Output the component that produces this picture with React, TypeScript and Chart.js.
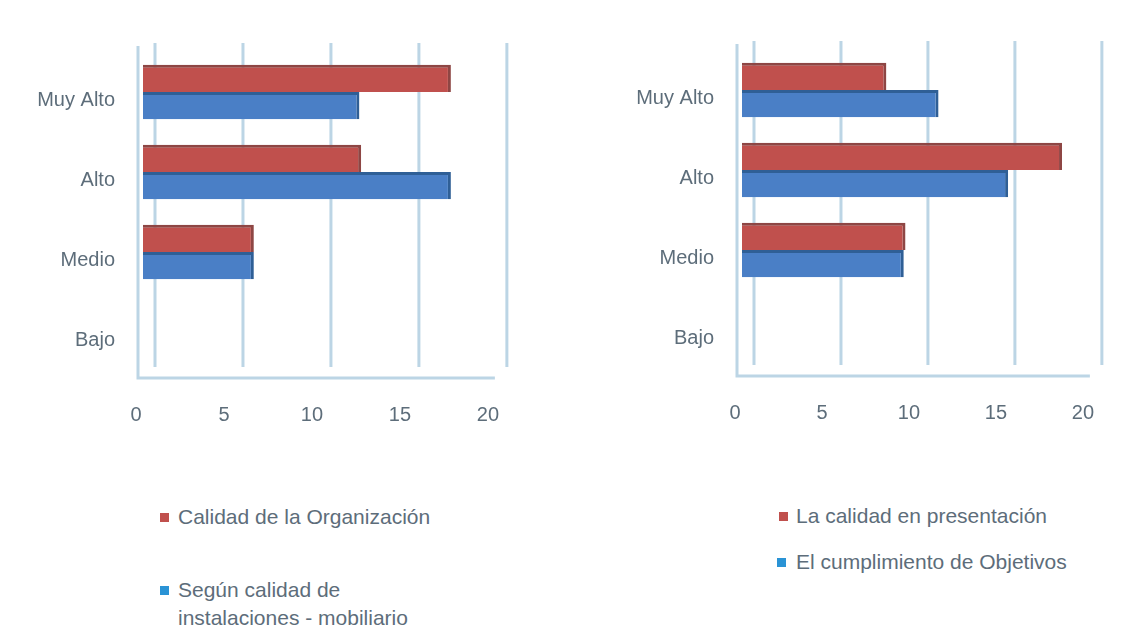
import React, { useEffect, useRef } from "react";
import { Chart, registerables } from "chart.js";

Chart.register(...registerables);

const categories = ["Muy Alto", "Alto", "Medio", "Bajo"];
const xTicks = [0, 5, 10, 15, 20];

const leftRedLabel = "Calidad de la Organización";
const leftRed = [17.5, 12.4, 6.3, 0];
const leftBlueLabel = ["Según calidad de", "instalaciones - mobiliario"];
const leftBlue = [12.3, 17.5, 6.3, 0];

const rightRedLabel = "La calidad en presentación";
const rightRed = [8.3, 18.4, 9.4, 0];
const rightBlueLabel = "El cumplimiento de Objetivos";
const rightBlue = [11.3, 15.3, 9.3, 0];

const RED = "#c0504d";
const RED_EDGE = "#8e4644";
const BLUE = "#4a7fc6";
const BLUE_EDGE = "#2f5f96";
const TEXT = "#5d6d7a";
const WALL = "#bcd5e5";
const FONT = "'Liberation Sans', Arial, sans-serif";

const wallPlugin = {
  id: "wall",
  beforeDatasetsDraw(chart: any) {
    const { left, right, top, bottom } = chart.chartArea;
    const xs = chart.scales.x;
    const ctx = chart.ctx;
    ctx.save();
    ctx.strokeStyle = WALL;
    ctx.lineWidth = 3;
    xTicks.forEach((v) => {
      const px = xs.getPixelForValue(v) + 12;
      ctx.beginPath();
      ctx.moveTo(px, top - 9);
      ctx.lineTo(px, bottom - 5);
      ctx.stroke();
    });
    ctx.beginPath();
    ctx.moveTo(left - 5, top - 6);
    ctx.lineTo(left - 5, bottom + 6);
    ctx.lineTo(right, bottom + 6);
    ctx.stroke();
    ctx.restore();
  },
};

type Props = {
  left: number;
  top: number;
  width: number;
  height: number;
  padTop: number;
  padRight: number;
  yWidth: number;
  xHeight: number;
  red: number[];
  blue: number[];
  redLabel: string;
  blueLabel: string | string[];
};

function BarChart(p: Props) {
  const ref = useRef<HTMLCanvasElement>(null);
  useEffect(() => {
    if (!ref.current) return;
    const chart = new Chart(ref.current, {
      type: "bar",
      data: {
        labels: categories,
        datasets: [
          {
            label: p.redLabel,
            data: p.red,
            backgroundColor: RED,
            borderColor: RED_EDGE,
            borderWidth: { top: 3, right: 3, bottom: 0, left: 0 },
            borderSkipped: false,
            categoryPercentage: 0.68,
            barPercentage: 1,
          },
          {
            label: Array.isArray(p.blueLabel) ? p.blueLabel.join(" ") : p.blueLabel,
            data: p.blue,
            backgroundColor: BLUE,
            borderColor: BLUE_EDGE,
            borderWidth: { top: 3, right: 3, bottom: 0, left: 0 },
            borderSkipped: false,
            categoryPercentage: 0.68,
            barPercentage: 1,
          },
        ],
      },
      options: {
        indexAxis: "y",
        responsive: false,
        animation: false,
        layout: { padding: { top: p.padTop, right: p.padRight, bottom: 10, left: 0 } },
        plugins: { legend: { display: false }, tooltip: { enabled: false } },
        scales: {
          x: {
            min: 0,
            max: 20,
            afterBuildTicks: (s: any) => {
              s.ticks = xTicks.map((v) => ({ value: v }));
            },
            ticks: { padding: 31, labelOffset: -7, color: TEXT, font: { family: FONT, size: 20 } },
            grid: { display: false, drawTicks: false },
            border: { display: false },
            afterFit: (s: any) => {
              s.height = p.xHeight;
            },
          },
          y: {
            ticks: { padding: 28, labelOffset: 8, color: TEXT, font: { family: FONT, size: 20 } },
            grid: { display: false, drawTicks: false },
            border: { display: false },
            afterFit: (s: any) => {
              s.width = p.yWidth;
            },
          },
        },
      } as any,
      plugins: [wallPlugin],
    });
    return () => chart.destroy();
  }, []);
  return (
    <canvas
      ref={ref}
      width={p.width}
      height={p.height}
      style={{ position: "absolute", left: p.left, top: p.top, width: p.width, height: p.height }}
    />
  );
}

function LegendItem({ x, y, color, lines, textLeft }: { x: number; y: number; color: string; lines: string[]; textLeft: number }) {
  return (
    <>
      <div style={{ position: "absolute", left: x - 4, top: y - 4, width: 9, height: 9, background: color }} />
      {lines.map((t, i) => (
        <div
          key={i}
          style={{
            position: "absolute",
            left: textLeft,
            top: y - 14 + i * 28,
            height: 28,
            lineHeight: "28px",
            fontFamily: FONT,
            fontSize: 21,
            color: TEXT,
            whiteSpace: "nowrap",
          }}
        >
          {t}
        </div>
      ))}
    </>
  );
}

export default function App() {
  return (
    <div style={{ position: "fixed", left: 0, top: 0, width: 1135, height: 630, background: "#fff", overflow: "hidden" }}>
      <BarChart
        left={0}
        top={0}
        width={537}
        height={440}
        padTop={52}
        padRight={25}
        yWidth={143}
        xHeight={58}
        red={leftRed}
        blue={leftBlue}
        redLabel={leftRedLabel}
        blueLabel={leftBlueLabel}
      />
      <BarChart
        left={600}
        top={0}
        width={532}
        height={440}
        padTop={50}
        padRight={25}
        yWidth={142}
        xHeight={60}
        red={rightRed}
        blue={rightBlue}
        redLabel={rightRedLabel}
        blueLabel={rightBlueLabel}
      />
      <LegendItem x={164} y={517} color={RED} lines={[leftRedLabel]} textLeft={178} />
      <LegendItem x={164} y={590} color="#2a93d5" lines={leftBlueLabel} textLeft={178} />
      <LegendItem x={783} y={516} color={RED} lines={[rightRedLabel]} textLeft={796} />
      <LegendItem x={781} y={562} color="#2a93d5" lines={[rightBlueLabel]} textLeft={796} />
    </div>
  );
}
